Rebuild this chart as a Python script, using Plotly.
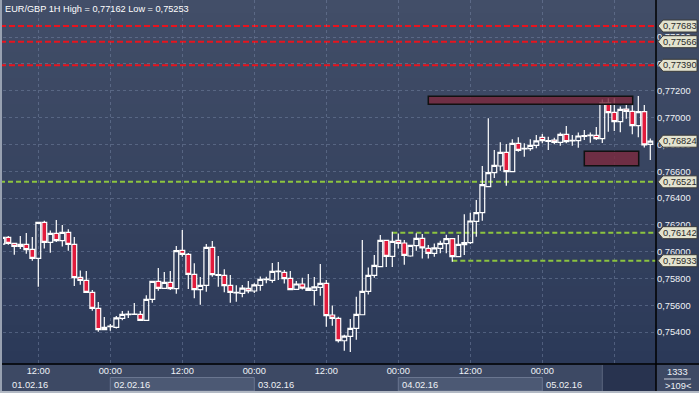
import plotly.graph_objects as go
import pandas as pd

# ---------------- data ----------------
times = pd.date_range("2016-02-01 06:00", periods=109, freq="h")

open_ = [0.76057, 0.76107, 0.76062, 0.76055, 0.76055, 0.76018, 0.75951, 0.76219, 0.76070, 0.76137,
         0.76082, 0.76144, 0.76055, 0.75809, 0.75786, 0.75697, 0.75578, 0.75419, 0.75441, 0.75436,
         0.75503, 0.75530, 0.75533, 0.75533, 0.75488, 0.75645, 0.75779, 0.75727, 0.75772, 0.75724,
         0.76010, 0.75980, 0.75831, 0.75717, 0.75749, 0.76033, 0.75829, 0.75824, 0.75749, 0.75697,
         0.75690, 0.75727, 0.75707, 0.75749, 0.75791, 0.75786, 0.75851, 0.75846, 0.75801, 0.75719,
         0.75759, 0.75729, 0.75712, 0.75734, 0.75764, 0.75528, 0.75503, 0.75336, 0.75369, 0.75428,
         0.75530, 0.75704, 0.75824, 0.75888, 0.76085, 0.75965, 0.76085, 0.76065, 0.75968, 0.76045,
         0.76100, 0.76025, 0.75988, 0.76025, 0.76060, 0.76097, 0.75963, 0.76052, 0.76067, 0.76226,
         0.76291, 0.76485, 0.76589, 0.76639, 0.76741, 0.76597, 0.76808, 0.76766, 0.76768, 0.76793,
         0.76853, 0.76823, 0.76833, 0.76816, 0.76875, 0.76826, 0.76828, 0.76860, 0.76865, 0.76868,
         0.76843, 0.77110, 0.77039, 0.76970, 0.77064, 0.77047, 0.76940, 0.77044, 0.76801]
high = [0.76112, 0.76117, 0.76067, 0.76117, 0.76139, 0.76110, 0.76222, 0.76231, 0.76159, 0.76236,
        0.76199, 0.76167, 0.76110, 0.75859, 0.75856, 0.75714, 0.75625, 0.75513, 0.75461, 0.75520,
        0.75558, 0.75560, 0.75617, 0.75558, 0.75675, 0.75781, 0.75878, 0.75849, 0.75856, 0.76043,
        0.76162, 0.75990, 0.75913, 0.75811, 0.76057, 0.76080, 0.75968, 0.75869, 0.75826, 0.75749,
        0.75752, 0.75781, 0.75764, 0.75816, 0.75814, 0.75916, 0.75923, 0.75864, 0.75856, 0.75781,
        0.75806, 0.75834, 0.75811, 0.75908, 0.75789, 0.75598, 0.75515, 0.75381, 0.75498, 0.75665,
        0.76087, 0.75883, 0.75975, 0.76125, 0.76087, 0.76149, 0.76135, 0.76087, 0.76049, 0.76137,
        0.76132, 0.76050, 0.76062, 0.76082, 0.76127, 0.76099, 0.76124, 0.76279, 0.76291, 0.76385,
        0.76639, 0.76995, 0.76758, 0.76816, 0.76803, 0.76838, 0.76853, 0.76808, 0.76838, 0.76870,
        0.76878, 0.76858, 0.76850, 0.76888, 0.76937, 0.76870, 0.76888, 0.76908, 0.76888, 0.76930,
        0.77135, 0.77145, 0.77144, 0.77082, 0.77094, 0.77092, 0.77162, 0.77094, 0.76845]
low = [0.76052, 0.76052, 0.75978, 0.76020, 0.75985, 0.75933, 0.75739, 0.76023, 0.75993, 0.76072,
       0.76038, 0.76008, 0.75744, 0.75754, 0.75695, 0.75560, 0.75404, 0.75416, 0.75411, 0.75428,
       0.75488, 0.75506, 0.75530, 0.75486, 0.75486, 0.75620, 0.75709, 0.75725, 0.75714, 0.75687,
       0.75963, 0.75722, 0.75652, 0.75605, 0.75702, 0.75814, 0.75739, 0.75697, 0.75620, 0.75627,
       0.75660, 0.75690, 0.75692, 0.75709, 0.75764, 0.75769, 0.75789, 0.75762, 0.75715, 0.75717,
       0.75719, 0.75710, 0.75598, 0.75672, 0.75441, 0.75448, 0.75322, 0.75262, 0.75253, 0.75344,
       0.75529, 0.75680, 0.75806, 0.75886, 0.75886, 0.75886, 0.76023, 0.75903, 0.75963, 0.76008,
       0.75950, 0.75950, 0.75963, 0.75988, 0.75988, 0.75926, 0.75961, 0.75975, 0.76057, 0.76112,
       0.76231, 0.76483, 0.76550, 0.76604, 0.76492, 0.76595, 0.76746, 0.76709, 0.76753, 0.76771,
       0.76808, 0.76758, 0.76801, 0.76791, 0.76808, 0.76791, 0.76776, 0.76833, 0.76813, 0.76833,
       0.76811, 0.76895, 0.76900, 0.76890, 0.76992, 0.76875, 0.76853, 0.76778, 0.76684]
close = [0.76107, 0.76062, 0.76040, 0.76040, 0.76015, 0.75951, 0.76219, 0.76070, 0.76137, 0.76082,
         0.76144, 0.76055, 0.75806, 0.75786, 0.75697, 0.75578, 0.75419, 0.75436, 0.75446, 0.75506,
         0.75533, 0.75535, 0.75534, 0.75488, 0.75645, 0.75779, 0.75727, 0.75772, 0.75724, 0.76008,
         0.75980, 0.75831, 0.75717, 0.75749, 0.76033, 0.75829, 0.75824, 0.75747, 0.75697, 0.75692,
         0.75729, 0.75707, 0.75752, 0.75794, 0.75796, 0.75854, 0.75856, 0.75799, 0.75717, 0.75759,
         0.75729, 0.75712, 0.75737, 0.75764, 0.75523, 0.75503, 0.75336, 0.75371, 0.75428, 0.75533,
         0.75704, 0.75824, 0.75898, 0.76085, 0.75965, 0.76077, 0.76062, 0.75973, 0.76047, 0.76100,
         0.76028, 0.75988, 0.76028, 0.76062, 0.76097, 0.75963, 0.76055, 0.76067, 0.76229, 0.76291,
         0.76500, 0.76589, 0.76644, 0.76741, 0.76597, 0.76808, 0.76756, 0.76771, 0.76793, 0.76826,
         0.76828, 0.76828, 0.76816, 0.76875, 0.76821, 0.76830, 0.76863, 0.76865, 0.76870, 0.76843,
         0.77110, 0.77037, 0.76970, 0.77062, 0.77047, 0.76940, 0.77044, 0.76796, 0.76824]

red_levels = [0.77683, 0.77566, 0.77390]
green_levels = [0.76521, 0.76142, 0.75933]
green_starts = [None, "2016-02-03 23:00", "2016-02-04 09:00"]
zones = [("2016-02-04 05:00", "2016-02-05 15:04", 0.77099, 0.77159),
         ("2016-02-05 07:00", "2016-02-05 16:04", 0.76641, 0.76749)]

y_ticks = [0.754, 0.756, 0.758, 0.760, 0.762, 0.764, 0.766, 0.768, 0.770, 0.772, 0.774, 0.776]
x_ticks = ["2016-02-01 12:00", "2016-02-02 00:00", "2016-02-02 12:00", "2016-02-03 00:00",
           "2016-02-03 12:00", "2016-02-04 00:00", "2016-02-04 12:00", "2016-02-05 00:00",
           "2016-02-05 12:00"]
x_tick_text = ["12:00", "00:00", "12:00", "00:00", "12:00", "00:00", "12:00", "00:00",
               "<span style='color:#5f6b84'>12:00</span>"]
day_starts = ["2016-02-01", "2016-02-02", "2016-02-03", "2016-02-04", "2016-02-05"]
day_labels = ["01.02.16", "02.02.16", "03.02.16", "04.02.16", "05.02.16"]
title_text = "EUR/GBP 1H High = 0,77162 Low = 0,75253"
bar_count = "1333"
visible_count = "&gt;109&lt;"

# ---------------- layout helpers (pixels -> paper) ----------------
W, H = 699, 393
PL, PR, PT, PB = 3, 656, 0, 364
PW, PH = PR - PL, PB - PT
def px(x):
    return (x - PL) / PW
def py(y):
    return (PB - y) / PH

TXT = "#eef1f6"
FONT = "Liberation Sans, Arial, sans-serif"
FS = 9.3

fig = go.Figure(go.Candlestick(
    x=times, open=open_, high=high, low=low, close=close,
    increasing=dict(line=dict(color="white", width=1.2), fillcolor="rgba(0,0,0,0)"),
    decreasing=dict(line=dict(color="white", width=1.2), fillcolor="#e11b3c"),
    whiskerwidth=0, hoverinfo="skip", showlegend=False))

shapes = []
# vertical gradient background (plot + right panel)
top_c = (66, 78, 104)
bot_c = (43, 57, 88)
n = 28
for i in range(n):
    t = (i + 0.5) / n
    c = tuple(round(top_c[j] + (bot_c[j] - top_c[j]) * t) for j in range(3))
    shapes.append(dict(type="rect", xref="paper", yref="paper", layer="below",
                       x0=px(0), x1=px(W), y0=1 - (i + 1) / n - 0.002, y1=1 - i / n,
                       fillcolor="rgb(%d,%d,%d)" % c, line=dict(width=0)))

# level lines
for lv in red_levels:
    shapes.append(dict(type="line", xref="paper", yref="y", x0=px(0), x1=1, y0=lv, y1=lv,
                       layer="between", line=dict(color="#e8141e", width=2, dash="6px,3px")))
for lv, st in zip(green_levels, green_starts):
    if st is None:
        shapes.append(dict(type="line", xref="paper", yref="y", x0=px(0), x1=1, y0=lv, y1=lv,
                           layer="between", line=dict(color="#8cc43f", width=2, dash="5px,3px")))
    else:
        shapes.append(dict(type="line", xref="x", yref="y", x0=st, x1=times[-1] + pd.Timedelta(hours=1),
                           y0=lv, y1=lv, layer="between",
                           line=dict(color="#8cc43f", width=2, dash="5px,3px")))

# zones
for x0, x1, y0, y1 in zones:
    shapes.append(dict(type="rect", xref="x", yref="y", x0=x0, x1=x1, y0=y0, y1=y1,
                       layer="above", fillcolor="rgba(122,42,62,0.82)",
                       line=dict(color="#111111", width=1.5)))

# bottom panel: date boxes
for i in (1, 3):
    shapes.append(dict(type="rect", xref="x", yref="paper", x0=day_starts[i], x1=day_starts[i + 1],
                       y0=py(391), y1=py(377.5), fillcolor="#4c5974",
                       line=dict(color="#6a7690", width=1)))
# greyed current-session box
shapes.append(dict(type="rect", xref="x", yref="paper", x0="2016-02-05 10:00",
                   x1="2016-02-05 19:00", y0=py(391), y1=py(365), fillcolor="#28334f",
                   line=dict(width=0)))
shapes.append(dict(type="line", xref="x", yref="paper", x0="2016-02-05 10:00",
                   x1="2016-02-05 10:00", y0=py(391), y1=py(365),
                   line=dict(color="#5b667e", width=1)))
# black axis lines extended
shapes.append(dict(type="line", xref="paper", yref="paper", x0=1, x1=1, y0=py(391), y1=1,
                   layer="above", line=dict(color="black", width=1.5)))
shapes.append(dict(type="line", xref="paper", yref="paper", x0=px(0), x1=px(W), y0=0, y1=0,
                   layer="above", line=dict(color="black", width=1.5)))
# separator in count box
shapes.append(dict(type="line", xref="paper", yref="paper", x0=px(664), x1=px(691),
                   y0=py(379), y1=py(379), line=dict(color="#c9ced8", width=1)))
# frame borders
shapes.append(dict(type="rect", xref="paper", yref="paper", x0=px(0), x1=px(2), y0=py(H), y1=1,
                   layer="above", fillcolor="#98a1b1", line=dict(width=0)))
shapes.append(dict(type="rect", xref="paper", yref="paper", x0=px(0), x1=px(W), y0=py(H), y1=py(391),
                   layer="above", fillcolor="#b2b9c4", line=dict(width=0)))

# right-side price tags
tag_levels = red_levels + [close[-1]] + green_levels
annotations = []
for lv in tag_levels:
    shapes.append(dict(type="path", xref="paper", yref="y", xsizemode="pixel", ysizemode="pixel",
                       xanchor=1, yanchor=lv, layer="above",
                       path="M 2,0 L 7,6 L 41,6 L 41,-6 L 7,-6 Z",
                       fillcolor="#e3e3cf", line=dict(color="#3a3a3a", width=1)))
    annotations.append(dict(xref="paper", yref="y", x=1, y=lv, xanchor="left", yanchor="middle",
                            xshift=5, showarrow=False, text=("%.5f" % lv).replace(".", ","),
                            font=dict(family=FONT, size=FS, color="#2a2a2a")))

# title
annotations.append(dict(xref="paper", yref="paper", x=0, y=1, xanchor="left", yanchor="top",
                        xshift=0, yshift=-2, showarrow=False, text=title_text,
                        font=dict(family=FONT, size=9.2, color="white")))
# dates row
for i, (d, lab) in enumerate(zip(day_starts, day_labels)):
    if i == 0:
        annotations.append(dict(xref="paper", yref="paper", x=px(10), y=py(384.5), xanchor="left",
                                yanchor="middle", showarrow=False, text=lab,
                                font=dict(family=FONT, size=FS, color=TXT)))
    else:
        annotations.append(dict(xref="x", yref="paper", x=d, y=py(384.5), xanchor="left",
                                yanchor="middle", xshift=2, showarrow=False, text=lab,
                                font=dict(family=FONT, size=FS, color=TXT)))
# count box
annotations.append(dict(xref="paper", yref="paper", x=px(677.5), y=py(372), xanchor="center",
                        yanchor="middle", showarrow=False, text=bar_count,
                        font=dict(family=FONT, size=FS, color=TXT)))
annotations.append(dict(xref="paper", yref="paper", x=px(677.5), y=py(386), xanchor="center",
                        yanchor="middle", showarrow=False, text=visible_count,
                        font=dict(family=FONT, size=FS, color=TXT)))

grid_c = "rgba(125,140,170,0.45)"
fig.update_layout(
    width=W, height=H, margin=dict(l=PL, r=W - PR, t=PT, b=H - PB, pad=0),
    paper_bgcolor="#3d4964", plot_bgcolor="rgba(0,0,0,0)",
    separators=", ", boxgap=0.2, boxgroupgap=0, showlegend=False,
    font=dict(family=FONT, size=FS, color=TXT),
    shapes=shapes, annotations=annotations,
    xaxis=dict(type="date", range=["2016-02-01 06:07", "2016-02-05 18:57"],
               rangeslider=dict(visible=False), tickvals=x_ticks, ticktext=x_tick_text,
               showgrid=True, gridcolor=grid_c, griddash="3px,3px", gridwidth=1,
               showline=False, ticks="", zeroline=False,
               tickfont=dict(family=FONT, size=FS, color=TXT)),
    yaxis=dict(side="right", range=[0.751626, 0.778770], tickvals=y_ticks, tickformat=".5f",
               showgrid=True, gridcolor=grid_c, griddash="3px,3px", gridwidth=1,
               showline=False, ticks="", zeroline=False,
               tickfont=dict(family=FONT, size=FS, color=TXT)),
)

fig.write_html("out.html", config={"displayModeBar": False},
               post_script="document.body.style.margin='0px';document.body.style.overflow='hidden';")
